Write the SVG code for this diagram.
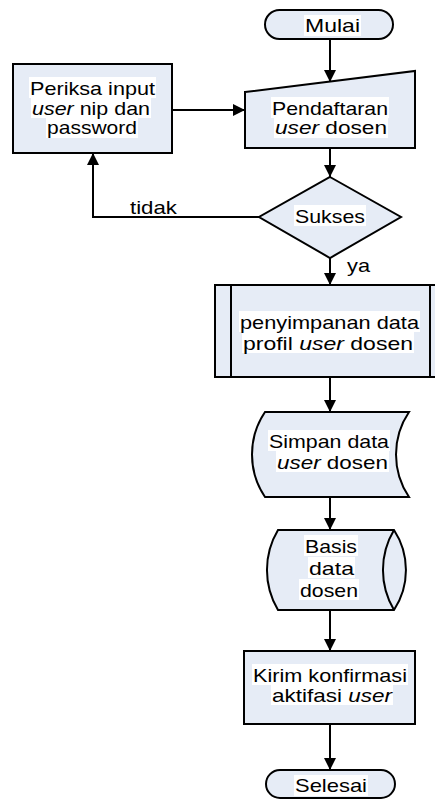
<svg xmlns="http://www.w3.org/2000/svg" width="435" height="799" viewBox="0 0 435 799">
  <defs>
    <marker id="arrow" viewBox="0 0 12 12" refX="12" refY="6" markerWidth="12" markerHeight="12" markerUnits="userSpaceOnUse" orient="auto">
      <path d="M0,0 L12,6 L0,12 Z" fill="#000"/>
    </marker>
  </defs>
  <style>
    .shape { fill: #e6ecf6; stroke: #000; stroke-width: 2; }
    .line { fill: none; stroke: #000; stroke-width: 2; }
    .conn { fill: none; stroke: #000; stroke-width: 2; marker-end: url(#arrow); }
    .hl { fill: #fff; }
    text { font-family: "Liberation Sans", Arial, sans-serif; font-size: 19px; fill: #000; }
    .i { font-style: italic; }
  </style>

  <rect width="435" height="799" fill="#fff"/>

  <!-- connectors -->
  <g id="connectors">
    <path class="conn" d="M330,39 V82"/>
    <path class="conn" d="M172,110 H245"/>
    <path class="conn" d="M330,148 V177"/>
    <path class="conn" d="M260,217 H93 V153"/>
    <path class="conn" d="M330,258 V285"/>
    <path class="conn" d="M330,377 V412"/>
    <path class="conn" d="M330,497 V530"/>
    <path class="conn" d="M330,610 V651"/>
    <path class="conn" d="M330,724 V770"/>
    <text x="130" y="214" textLength="47" lengthAdjust="spacingAndGlyphs">tidak</text>
    <text x="347" y="272" textLength="23" lengthAdjust="spacingAndGlyphs">ya</text>
  </g>

  <!-- start -->
  <g id="mulai">
    <rect class="shape" x="265" y="10" width="128" height="29" rx="14.5"/>
    <rect class="hl" x="304" y="15" width="57" height="21"/>
    <text x="305" y="32" textLength="55" lengthAdjust="spacingAndGlyphs">Mulai</text>
  </g>

  <!-- manual input -->
  <g id="pendaftaran">
    <path class="shape" d="M245,92 L415,71 L415,148 L245,148 Z"/>
    <rect class="hl" x="271" y="97" width="118" height="21"/>
    <rect class="hl" x="274" y="118" width="114" height="20"/>
    <text x="272" y="115" textLength="116" lengthAdjust="spacingAndGlyphs">Pendaftaran</text>
    <text x="275" y="134" textLength="112" lengthAdjust="spacingAndGlyphs"><tspan class="i">user</tspan> dosen</text>
  </g>

  <!-- check input -->
  <g id="periksa">
    <rect class="shape" x="13" y="64" width="159" height="89"/>
    <rect class="hl" x="29" y="77" width="127" height="21"/>
    <rect class="hl" x="31" y="98" width="120" height="20"/>
    <rect class="hl" x="46" y="118" width="92" height="20"/>
    <text x="30" y="95" textLength="125" lengthAdjust="spacingAndGlyphs">Periksa input</text>
    <text x="32" y="115" textLength="118" lengthAdjust="spacingAndGlyphs"><tspan class="i">user</tspan> nip dan</text>
    <text x="47" y="134" textLength="90" lengthAdjust="spacingAndGlyphs">password</text>
  </g>

  <!-- decision -->
  <g id="sukses">
    <path class="shape" d="M330,177 L401,217 L330,258 L259,217 Z"/>
    <rect class="hl" x="294" y="205" width="72" height="21"/>
    <text x="295" y="223" textLength="70" lengthAdjust="spacingAndGlyphs">Sukses</text>
  </g>

  <!-- predefined process -->
  <g id="penyimpanan">
    <rect class="shape" x="215" y="285" width="231" height="92"/>
    <path class="line" d="M231,285 V377 M430,285 V377"/>
    <rect class="hl" x="239" y="311" width="181" height="21"/>
    <rect class="hl" x="242" y="332" width="172" height="21"/>
    <text x="240" y="329" textLength="179" lengthAdjust="spacingAndGlyphs">penyimpanan data</text>
    <text x="243" y="350" textLength="170" lengthAdjust="spacingAndGlyphs">profil <tspan class="i">user</tspan> dosen</text>
  </g>

  <!-- stored data -->
  <g id="simpan">
    <path class="shape" d="M265,412 H409 A76,76 0 0 0 409,497 H265 A76,76 0 0 1 265,412 Z"/>
    <rect class="hl" x="268" y="430" width="122" height="21"/>
    <rect class="hl" x="276" y="451" width="113" height="21"/>
    <text x="269" y="448" textLength="120" lengthAdjust="spacingAndGlyphs">Simpan data</text>
    <text x="277" y="469" textLength="111" lengthAdjust="spacingAndGlyphs"><tspan class="i">user</tspan> dosen</text>
  </g>

  <!-- direct access storage -->
  <g id="basis">
    <path class="shape" d="M278,530 H394 A73,73 0 0 1 394,610 H278 A78,78 0 0 1 278,530 Z"/>
    <path class="line" d="M394,530 A78,78 0 0 0 394,610"/>
    <rect class="hl" x="304" y="535" width="54" height="21"/>
    <rect class="hl" x="308" y="557" width="47" height="21"/>
    <rect class="hl" x="299" y="579" width="60" height="21"/>
    <text x="305" y="553" textLength="52" lengthAdjust="spacingAndGlyphs">Basis</text>
    <text x="309" y="575" textLength="45" lengthAdjust="spacingAndGlyphs">data</text>
    <text x="300" y="597" textLength="58" lengthAdjust="spacingAndGlyphs">dosen</text>
  </g>

  <!-- process -->
  <g id="kirim">
    <rect class="shape" x="244" y="651" width="171" height="73"/>
    <rect class="hl" x="252" y="664" width="156" height="21"/>
    <rect class="hl" x="271" y="685" width="122" height="20"/>
    <text x="253" y="682" textLength="154" lengthAdjust="spacingAndGlyphs">Kirim konfirmasi</text>
    <text x="272" y="702" textLength="120" lengthAdjust="spacingAndGlyphs">aktifasi <tspan class="i">user</tspan></text>
  </g>

  <!-- end -->
  <g id="selesai">
    <rect class="shape" x="266" y="770" width="129" height="28" rx="14"/>
    <rect class="hl" x="294" y="775" width="74" height="21"/>
    <text x="295" y="792" textLength="72" lengthAdjust="spacingAndGlyphs">Selesai</text>
  </g>
</svg>
